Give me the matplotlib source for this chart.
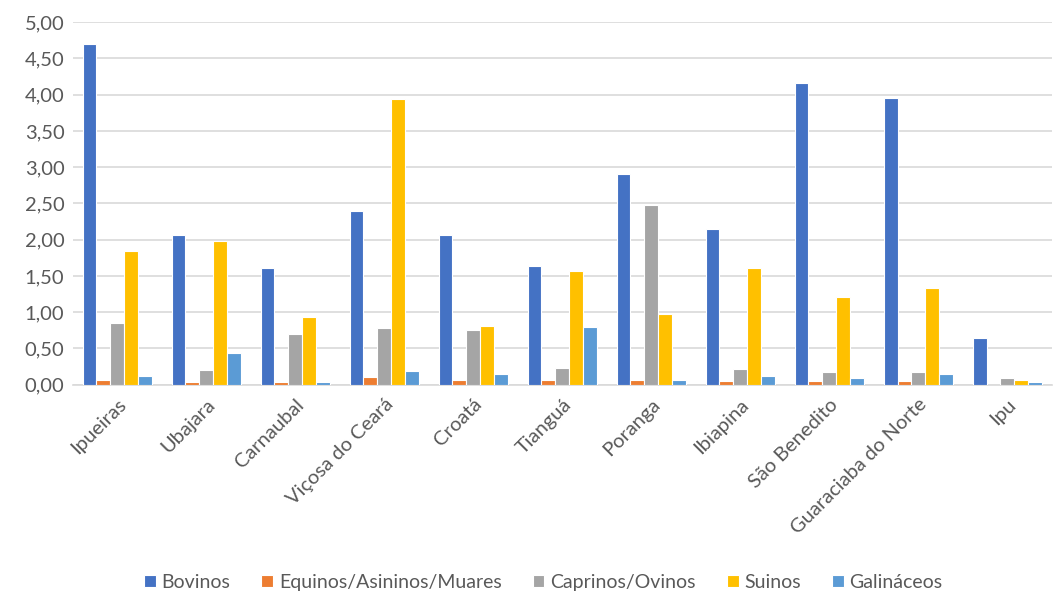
import numpy as np
import matplotlib.pyplot as plt
from matplotlib.ticker import FuncFormatter

plt.rcParams["font.family"] = ["Lato", "DejaVu Sans"]

municipios = ["Ipueiras", "Ubajara", "Carnaubal", "Viçosa do Ceará", "Croatá",
              "Tianguá", "Poranga", "Ibiapina", "São Benedito",
              "Guaraciaba do Norte", "Ipu"]

bovinos = [4.70, 2.06, 1.61, 2.40, 2.07, 1.63, 2.90, 2.15, 4.16, 3.95, 0.64]
equinos = [0.06, 0.03, 0.04, 0.11, 0.07, 0.06, 0.07, 0.05, 0.05, 0.05, 0.00]
caprinos = [0.85, 0.20, 0.70, 0.78, 0.75, 0.23, 2.48, 0.22, 0.17, 0.17, 0.09]
suinos = [1.85, 1.98, 0.93, 3.94, 0.81, 1.57, 0.98, 1.61, 1.21, 1.34, 0.07]
galinaceos = [0.12, 0.43, 0.04, 0.19, 0.14, 0.80, 0.06, 0.12, 0.09, 0.14, 0.03]

series = [
    ("Bovinos", bovinos, "#4472C4"),
    ("Equinos/Asininos/Muares", equinos, "#ED7D31"),
    ("Caprinos/Ovinos", caprinos, "#A5A5A5"),
    ("Suinos", suinos, "#FFC000"),
    ("Galináceos", galinaceos, "#5B9BD5"),
]

fig = plt.figure(figsize=(10.55, 6.01), dpi=100)
ax = fig.add_axes([0.069, 0.360, 0.928, 0.603])

x = np.arange(len(municipios))
width = 0.156
for i, (name, vals, color) in enumerate(series):
    ax.bar(x + (i - 2) * width, vals, width, color=color, label=name,
           edgecolor="white", linewidth=0.8, zorder=3)

ax.set_xlim(-0.5, len(municipios) - 0.5)
ax.set_ylim(0, 5)
ax.set_yticks(np.arange(0, 5.01, 0.5))
ax.yaxis.set_major_formatter(FuncFormatter(lambda v, p: f"{v:.2f}".replace(".", ",")))
ax.grid(axis="y", color="#D9D9D9", linewidth=1.2, zorder=0)

for s in ["top", "right", "left"]:
    ax.spines[s].set_visible(False)
ax.spines["bottom"].set_color("#D9D9D9")
ax.spines["bottom"].set_linewidth(1.2)

ax.set_xticks(x)
ax.set_xticklabels(municipios, rotation=45, ha="right", rotation_mode="anchor",
                   fontsize=14.5, color="#595959")
ax.tick_params(axis="both", length=0, colors="#595959")
ax.tick_params(axis="y", labelsize=14.5, pad=6)
ax.tick_params(axis="x", pad=8)

fig.legend(loc="lower center", bbox_to_anchor=(0.515, -0.012), ncol=5, frameon=False,
           fontsize=14, handlelength=0.6, handleheight=0.6, handletextpad=0.3,
           columnspacing=1.6, labelcolor="#595959")

fig.savefig("out.png", dpi=100)
